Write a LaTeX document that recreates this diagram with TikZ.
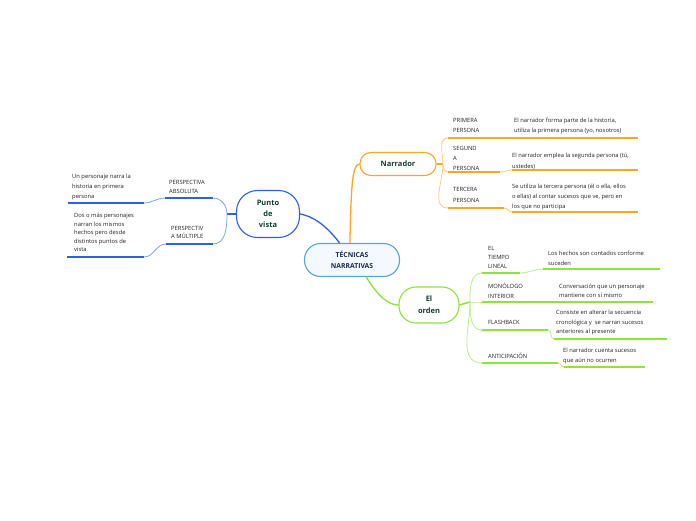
\documentclass[tikz,border=0pt]{standalone}
\usepackage{fontspec}
\setmainfont{Open Sans}
\definecolor{orA}{HTML}{FFA423}
\definecolor{orL}{HTML}{FFCB80}
\definecolor{grA}{HTML}{8EE43A}
\definecolor{grL}{HTML}{B9EF8C}
\definecolor{blA}{HTML}{2F5EE8}
\definecolor{blL}{HTML}{7FA0F0}
\definecolor{ctB}{HTML}{5AA2DE}
\definecolor{ctF}{HTML}{F3F9FE}
\definecolor{tpT}{HTML}{163F33}
\definecolor{ctT}{HTML}{1B2A4A}
\definecolor{txT}{HTML}{222222}
\begin{document}
\begin{tikzpicture}[x=1pt,y=-1pt,
  txt/.style={anchor=north west, inner sep=0pt, align=left, text=txT, font=\fontsize{5.8}{10}\selectfont},
  topic/.style={draw=#1, line width=1.1pt, fill=white, inner sep=0pt, align=center, text=tpT, font=\fontsize{7.5}{11}\bfseries},
  sub/.style={line width=1.8pt},
  det/.style={line width=1.4pt},
  crv/.style={line width=0.8pt}]
\useasboundingbox[fill=white] (0,0) rectangle (696,520);

% main nodes
\node[draw=ctB, fill=ctF, line width=1.1pt, rounded corners=16pt, minimum width=95pt, minimum height=33pt, inner sep=0pt, align=center, text=ctT, font=\fontsize{6.8}{10.5}\bfseries] (ct) at (352,260) {TÉCNICAS\\NARRATIVAS};
\node[topic=blA, rounded corners=21pt, minimum width=63pt, minimum height=47pt] (pv) at (268,214) {Punto\\de\\vista};
\node[topic=orA, rounded corners=11pt, minimum width=76pt, minimum height=23pt] (nar) at (398,164) {Narrador};
\node[topic=grA, rounded corners=17pt, minimum width=60pt, minimum height=36pt, font=\fontsize{7.5}{12}\bfseries] (ord) at (429,305) {El\\orden};

% main connectors
\draw[blA, line width=1.3pt] (ct.126) .. controls (325,224) and (312,216) .. (pv.east);
\draw[orA, line width=1.3pt] (ct.97) .. controls (351,190) and (352,164) .. (nar.west);
\draw[grA, line width=1.3pt] (ct.-50) .. controls (378,296) and (388,305) .. (ord.west);

% ---------- Narrador ----------
\node[txt] (p1) at (453,118) {PRIMERA\\PERSONA};
\node[txt] (p2) at (453,146) {SEGUND\\A\\PERSONA};
\node[txt, font=\fontsize{5.8}{11}\selectfont] (p3) at (453,187) {TERCERA\\PERSONA};
\node[txt] (d1) at (514,118) {El narrador forma parte de la historia,\\utiliza la primera persona (yo, nosotros)};
\node[txt, font=\fontsize{5.8}{11}\selectfont] (d2) at (512,153) {El narrador emplea la segunda persona (tú,\\ustedes)};
\node[txt] (d3) at (512,184) {Se utiliza la tercera persona (él o ella, ellos\\o ellas) al contar sucesos que ve, pero en\\los que no participa};

\coordinate (ns) at (443,164);
\draw[orA, line width=1.5pt] (nar.east) -- (ns);
\coordinate (p1a) at (448,138); \coordinate (p1b) at (508,138); \coordinate (p1c) at (638,138);
\coordinate (p2a) at (448,172); \coordinate (p2b) at (500,172); \coordinate (p2c) at (512,170); \coordinate (p2d) at (638,170);
\coordinate (p3a) at (448,208); \coordinate (p3b) at (504,208); \coordinate (p3c) at (512,212); \coordinate (p3d) at (638,212);
\draw[orL, crv] (ns) to[out=90,in=180] (p1a);
\draw[orL, crv] (ns) to[out=-90,in=180] (p2a);
\draw[orL, crv] (ns) to[out=-90,in=180] (p3a);
\draw[orA, sub] (p1a) -- (p1b);
\draw[orA, det] (p1b) -- (p1c);
\draw[orA, sub] (p2a) -- (p2b);
\draw[orL, crv] (p2b) to[out=0,in=180] (p2c);
\draw[orA, det] (p2c) -- (p2d);
\draw[orA, sub] (p3a) -- (p3b);
\draw[orL, crv] (p3b) to[out=0,in=180] (p3c);
\draw[orA, det] (p3c) -- (p3d);

% ---------- El orden ----------
\node[txt, font=\fontsize{5.8}{9}\selectfont] (o1) at (488,246) {EL\\TIEMPO\\LINEAL};
\node[txt] (o2) at (488,283) {MONÓLOGO\\INTERIOR};
\node[txt] (o3) at (488,320) {FLASHBACK};
\node[txt] (o4) at (488,353) {ANTICIPACIÓN};
\node[txt] (e1) at (548,251) {Los hechos son contados conforme\\suceden};
\node[txt, font=\fontsize{5.8}{9}\selectfont] (e2) at (559,284) {Conversación que un personaje\\mantiene con sí mismo};
\node[txt, font=\fontsize{5.8}{9.5}\selectfont] (e3) at (556,310) {Consiste en alterar la secuencia\\cronológica y \ se narran sucesos\\anteriores al presente};
\node[txt] (e4) at (563,348) {El narrador cuenta sucesos\\que aún no ocurren};

\coordinate (os) at (470,302);
\draw[grA, line width=1.5pt] (ord.east) -- (os);
\coordinate (o1a) at (482,273); \coordinate (o1b) at (520,273); \coordinate (o1c) at (543,269); \coordinate (o1d) at (660,269);
\coordinate (o2a) at (482,302); \coordinate (o2b) at (530,302); \coordinate (o2d) at (653,302);
\coordinate (o3a) at (482,330); \coordinate (o3b) at (548,330); \coordinate (o3c) at (554,339); \coordinate (o3d) at (667,339);
\coordinate (o4a) at (482,363); \coordinate (o4b) at (558,363); \coordinate (o4c) at (564,367); \coordinate (o4d) at (645,367);
\draw[grL, crv] (os) to[out=90,in=180] (o1a);
\draw[grL, crv] (os) to[out=0,in=180] (o2a);
\draw[grL, crv] (os) to[out=-90,in=180] (o3a);
\draw[grL, crv] (os) to[out=-90,in=180] (o4a);
\draw[grA, sub] (o1a) -- (o1b);
\draw[grL, crv] (o1b) to[out=0,in=180] (o1c);
\draw[grA, det] (o1c) -- (o1d);
\draw[grA, sub] (o2a) -- (o2b);
\draw[grA, det] (o2b) -- (o2d);
\draw[grA, sub] (o3a) -- (o3b);
\draw[grL, crv] (o3b) to[out=0,in=180] (o3c);
\draw[grA, det] (o3c) -- (o3d);
\draw[grA, sub] (o4a) -- (o4b);
\draw[grL, crv] (o4b) to[out=0,in=180] (o4c);
\draw[grA, det] (o4c) -- (o4d);

% ---------- Punto de vista ----------
\node[txt, font=\fontsize{5.8}{9}\selectfont] (v1) at (169,180) {PERSPECTIVA\\ABSOLUTA};
\node[txt, font=\fontsize{5.8}{8.5}\selectfont] (v2) at (171,226) {PERSPECTIV\\A MÚLTIPLE};
\node[txt] (w1) at (72,174) {Un personaje narra la\\historia en primera\\persona};
\node[txt, font=\fontsize{5.8}{8.5}\selectfont] (w2) at (74,213) {Dos o más personajes\\narran los mismos\\hechos pero desde\\distintos puntos de\\vista};

\coordinate (ps) at (227,214);
\draw[blA, line width=1.5pt] (pv.west) -- (ps);
\coordinate (v1a) at (213,198); \coordinate (v1b) at (165,198); \coordinate (v1c) at (144,203); \coordinate (v1d) at (68,203);
\coordinate (v2a) at (213,244); \coordinate (v2b) at (166,244); \coordinate (v2c) at (144,257); \coordinate (v2d) at (67,257);
\draw[blL, crv] (ps) to[out=90,in=0] (v1a);
\draw[blL, crv] (ps) to[out=-90,in=0] (v2a);
\draw[blA, sub] (v1a) -- (v1b);
\draw[blL, crv] (v1b) to[out=180,in=0] (v1c);
\draw[blA, det] (v1c) -- (v1d);
\draw[blA, sub] (v2a) -- (v2b);
\draw[blL, crv] (v2b) to[out=180,in=0] (v2c);
\draw[blA, det] (v2c) -- (v2d);
\end{tikzpicture}
\end{document}
